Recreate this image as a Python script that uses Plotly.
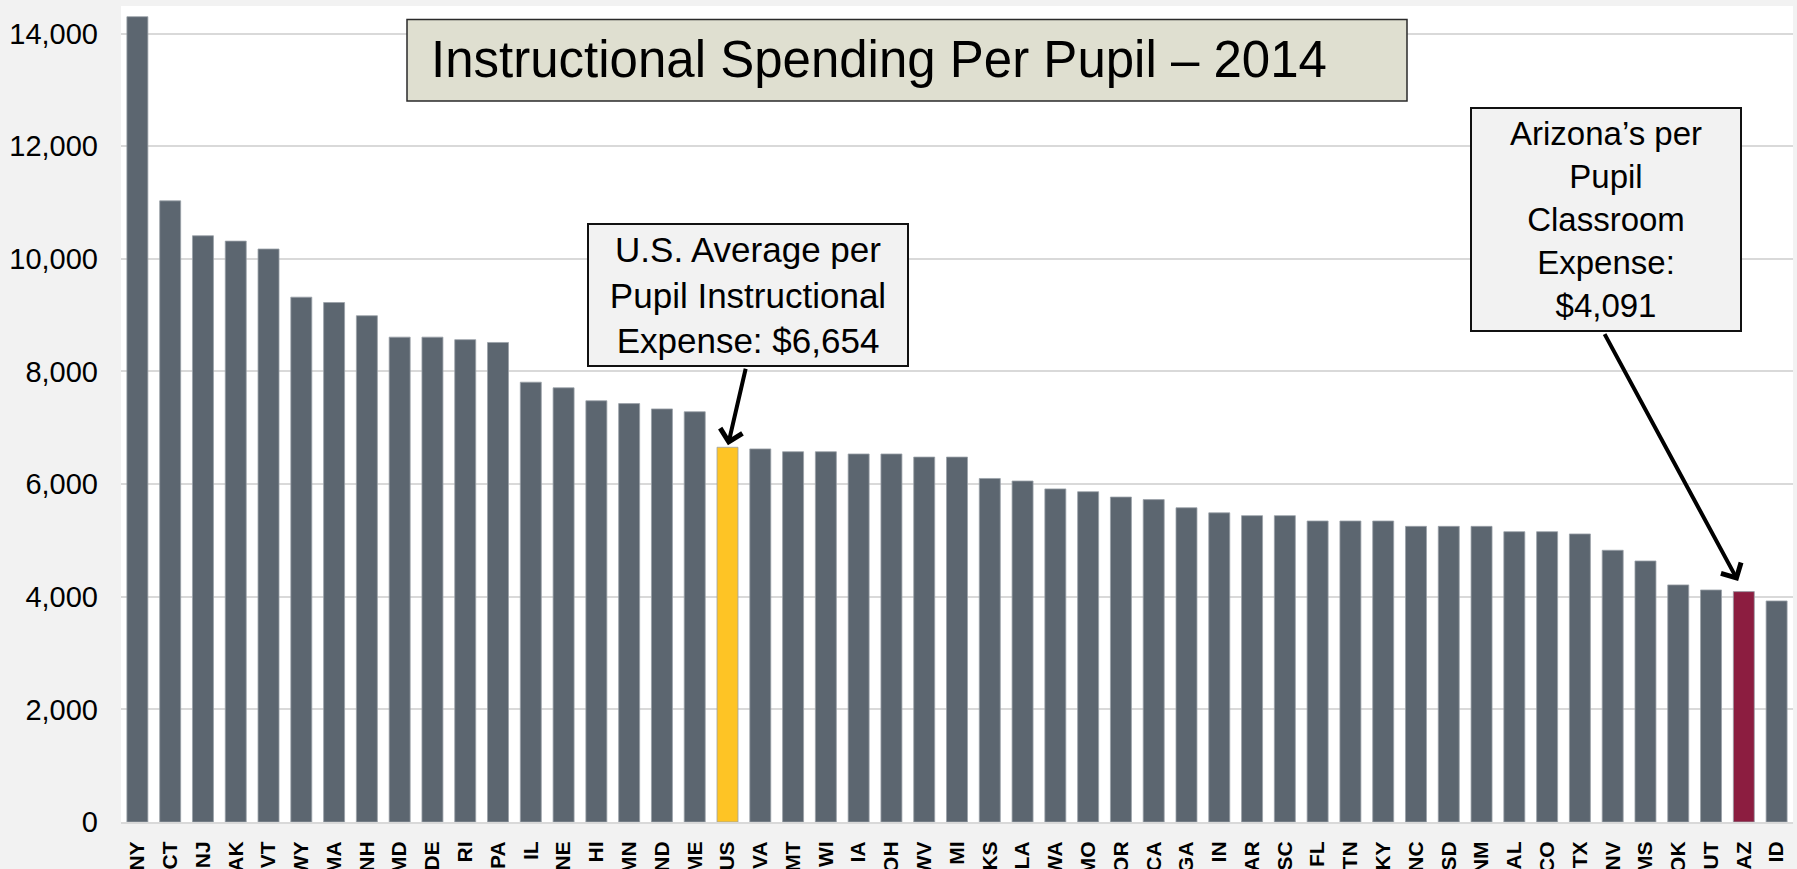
import plotly.graph_objects as go

states = ["NY","CT","NJ","AK","VT","WY","MA","NH","MD","DE","RI","PA","IL","NE","HI","MN","ND","ME",
          "US","VA","MT","WI","IA","OH","WV","MI","KS","LA","WA","MO","OR","CA","GA","IN","AR","SC",
          "FL","TN","KY","NC","SD","NM","AL","CO","TX","NV","MS","OK","UT","AZ","ID"]
spending = [14300,11030,10410,10315,10175,9320,9225,8990,8610,8610,8565,8515,7810,7710,7480,7430,7335,7285,
            6654,6625,6575,6575,6535,6535,6480,6480,6100,6055,5915,5865,5770,5725,5580,5490,5440,5440,
            5345,5345,5345,5250,5250,5250,5155,5155,5115,4825,4635,4210,4120,4091,3925]

GRAY = "#5c6670"
US_COLOR = "#fec425"
AZ_COLOR = "#8c1d40"
colors = [US_COLOR if s == "US" else AZ_COLOR if s == "AZ" else GRAY for s in states]

y_ticks = list(range(0, 14001, 2000))
title_text = "Instructional Spending Per Pupil \u2013 2014"
us_text = "U.S. Average per<br>Pupil Instructional<br>Expense: $6,654"
az_text = "Arizona\u2019s per<br>Pupil<br>Classroom<br>Expense:<br>$4,091"

W, H = 1797, 869
ML, MR, MT, MB = 121, 4, 6, 47
PW, PH = W - ML - MR, H - MT - MB


def px_x(px):
    return (px - ML) / PW


def px_y(py):
    return (H - MB - py) / PH


fig = go.Figure(go.Bar(
    x=states, y=spending,
    marker=dict(color=colors, line=dict(color="#9aa1a8", width=0.8)),
    hoverinfo="x+y",
))

fig.update_layout(
    width=W, height=H,
    margin=dict(l=ML, r=MR, t=MT, b=MB, autoexpand=False),
    paper_bgcolor="#f2f2f2",
    plot_bgcolor="#ffffff",
    bargap=0.36,
    showlegend=False,
    font=dict(family="Liberation Sans, Arial, sans-serif", color="#000000"),
    xaxis=dict(
        type="category",
        range=[-0.5, len(states) - 0.5],
        tickangle=-90,
        tickfont=dict(size=21, family="Liberation Sans, Arial, sans-serif", weight="bold"),
        showgrid=False,
        showline=True, linecolor="#d9d9d9", linewidth=2,
        ticks="", ticklabelstandoff=9,
        automargin=False,
    ),
    yaxis=dict(
        range=[0, 14490],
        tickvals=y_ticks,
        tickformat=",d",
        tickfont=dict(size=29),
        showgrid=True, gridcolor="#d9d9d9", gridwidth=2,
        zeroline=False,
        showline=False,
        ticks="", ticklabelstandoff=22,
        automargin=False,
    ),
)

# title box drawn as a rectangle, text placed left-aligned inside
fig.add_shape(type="rect", xref="paper", yref="paper",
              x0=px_x(407), x1=px_x(1407), y0=px_y(101), y1=px_y(19.5),
              fillcolor="#dfdfd0", line=dict(color="#2a2a2a", width=1.5), layer="above")

annotations = [
    dict(xref="paper", yref="paper",
         x=px_x(429), y=px_y(60), xanchor="left", yanchor="middle",
         text=title_text, showarrow=False,
         font=dict(size=51, family="Liberation Sans, Arial"), align="left"),
    dict(xref="paper", yref="paper",
         x=px_x(748), y=px_y(295), xanchor="center", yanchor="middle",
         text=us_text, showarrow=False,
         font=dict(size=35), align="center", width=318, height=140,
         bgcolor="#f2f2f2", bordercolor="#111111", borderwidth=2, borderpad=0),
    dict(xref="paper", yref="paper",
         x=px_x(1606), y=px_y(219.5), xanchor="center", yanchor="middle",
         text=az_text, showarrow=False,
         font=dict(size=33), align="center", width=268, height=221,
         bgcolor="#f2f2f2", bordercolor="#111111", borderwidth=2, borderpad=0),
    dict(x="US", y=6654, xref="x", yref="y", text="", showarrow=True,
         ax=18.5, ay=-80, arrowhead=4, arrowsize=1.1, arrowwidth=4,
         arrowcolor="#000000", standoff=2),
    dict(x="AZ", y=4091, xref="x", yref="y", text="", showarrow=True,
         ax=-140, ay=-259, arrowhead=4, arrowsize=1.1, arrowwidth=4,
         arrowcolor="#000000", standoff=12),
]
fig.update_layout(annotations=annotations)

fig.write_html("out.html", config={"displayModeBar": False},
               post_script="document.body.style.margin='0';")
